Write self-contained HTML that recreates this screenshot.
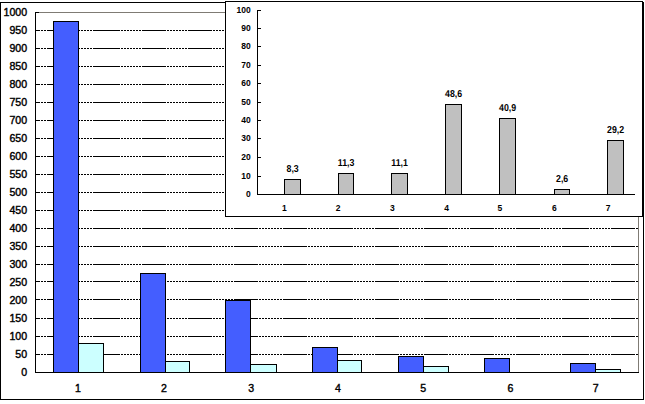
<!DOCTYPE html>
<html><head><meta charset="utf-8"><title>chart</title>
<style>
html,body{margin:0;padding:0;background:#fff;}
body{width:645px;height:404px;overflow:hidden;}
svg{display:block;}
text{font-family:"Liberation Sans", Arial, sans-serif;}
.ml{font-size:10.6px;fill:#000;stroke:#000;stroke-width:0.4px;}
.il{font-size:8.5px;font-weight:bold;fill:#000;}
.dl{font-size:10px;font-weight:bold;fill:#000;text-rendering:geometricPrecision;}
</style></head><body>
<svg width="645" height="404" viewBox="0 0 645 404">
<rect x="0" y="0" width="645" height="404" fill="#fff"/>

<rect x="0.5" y="2.5" width="643" height="397" fill="#fff" stroke="#000" stroke-width="1" shape-rendering="crispEdges"/>
<path d="M39 12.5H639M638.5 12V372" stroke="#7f7b74" stroke-width="1" fill="none" shape-rendering="crispEdges"/>
<path d="M36 30.5H40M41 30.5H43M44 30.5H46M47 30.5H71M72 30.5H74M75 30.5H77M78 30.5H80M81 30.5H83M84 30.5H86M87 30.5H89M90 30.5H92M93 30.5H120M121 30.5H123M124 30.5H126M127 30.5H129M130 30.5H132M133 30.5H135M136 30.5H138M139 30.5H141M142 30.5H166M167 30.5H169M170 30.5H172M173 30.5H175M176 30.5H178M179 30.5H181M182 30.5H184M185 30.5H187M188 30.5H212M213 30.5H215M216 30.5H218M219 30.5H221M222 30.5H224M225 30.5H227M228 30.5H230M231 30.5H233M234 30.5H258M259 30.5H261M262 30.5H264M265 30.5H267M268 30.5H270M271 30.5H273M274 30.5H276M277 30.5H279M280 30.5H282M283 30.5H307M308 30.5H310M311 30.5H313M314 30.5H316M317 30.5H319M320 30.5H322M323 30.5H325M326 30.5H328M329 30.5H353M354 30.5H356M357 30.5H359M360 30.5H362M363 30.5H365M366 30.5H368M369 30.5H371M372 30.5H374M375 30.5H399M400 30.5H402M403 30.5H405M406 30.5H408M409 30.5H411M412 30.5H414M415 30.5H417M418 30.5H420M421 30.5H423M424 30.5H448M449 30.5H451M452 30.5H454M455 30.5H457M458 30.5H460M461 30.5H463M464 30.5H466M467 30.5H469M470 30.5H494M495 30.5H497M498 30.5H500M501 30.5H503M504 30.5H506M507 30.5H509M510 30.5H512M513 30.5H515M516 30.5H540M541 30.5H543M544 30.5H546M547 30.5H549M550 30.5H552M553 30.5H555M556 30.5H558M559 30.5H561M562 30.5H589M590 30.5H592M593 30.5H595M596 30.5H598M599 30.5H601M602 30.5H604M605 30.5H607M608 30.5H610M611 30.5H635M636 30.5H638M36 48.5H40M41 48.5H43M44 48.5H46M47 48.5H71M72 48.5H74M75 48.5H77M78 48.5H80M81 48.5H83M84 48.5H86M87 48.5H89M90 48.5H92M93 48.5H120M121 48.5H123M124 48.5H126M127 48.5H129M130 48.5H132M133 48.5H135M136 48.5H138M139 48.5H141M142 48.5H166M167 48.5H169M170 48.5H172M173 48.5H175M176 48.5H178M179 48.5H181M182 48.5H184M185 48.5H187M188 48.5H212M213 48.5H215M216 48.5H218M219 48.5H221M222 48.5H224M225 48.5H227M228 48.5H230M231 48.5H233M234 48.5H258M259 48.5H261M262 48.5H264M265 48.5H267M268 48.5H270M271 48.5H273M274 48.5H276M277 48.5H279M280 48.5H282M283 48.5H307M308 48.5H310M311 48.5H313M314 48.5H316M317 48.5H319M320 48.5H322M323 48.5H325M326 48.5H328M329 48.5H353M354 48.5H356M357 48.5H359M360 48.5H362M363 48.5H365M366 48.5H368M369 48.5H371M372 48.5H374M375 48.5H399M400 48.5H402M403 48.5H405M406 48.5H408M409 48.5H411M412 48.5H414M415 48.5H417M418 48.5H420M421 48.5H423M424 48.5H448M449 48.5H451M452 48.5H454M455 48.5H457M458 48.5H460M461 48.5H463M464 48.5H466M467 48.5H469M470 48.5H494M495 48.5H497M498 48.5H500M501 48.5H503M504 48.5H506M507 48.5H509M510 48.5H512M513 48.5H515M516 48.5H540M541 48.5H543M544 48.5H546M547 48.5H549M550 48.5H552M553 48.5H555M556 48.5H558M559 48.5H561M562 48.5H589M590 48.5H592M593 48.5H595M596 48.5H598M599 48.5H601M602 48.5H604M605 48.5H607M608 48.5H610M611 48.5H635M636 48.5H638M36 66.5H40M41 66.5H43M44 66.5H46M47 66.5H71M72 66.5H74M75 66.5H77M78 66.5H80M81 66.5H83M84 66.5H86M87 66.5H89M90 66.5H92M93 66.5H120M121 66.5H123M124 66.5H126M127 66.5H129M130 66.5H132M133 66.5H135M136 66.5H138M139 66.5H141M142 66.5H166M167 66.5H169M170 66.5H172M173 66.5H175M176 66.5H178M179 66.5H181M182 66.5H184M185 66.5H187M188 66.5H212M213 66.5H215M216 66.5H218M219 66.5H221M222 66.5H224M225 66.5H227M228 66.5H230M231 66.5H233M234 66.5H258M259 66.5H261M262 66.5H264M265 66.5H267M268 66.5H270M271 66.5H273M274 66.5H276M277 66.5H279M280 66.5H282M283 66.5H307M308 66.5H310M311 66.5H313M314 66.5H316M317 66.5H319M320 66.5H322M323 66.5H325M326 66.5H328M329 66.5H353M354 66.5H356M357 66.5H359M360 66.5H362M363 66.5H365M366 66.5H368M369 66.5H371M372 66.5H374M375 66.5H399M400 66.5H402M403 66.5H405M406 66.5H408M409 66.5H411M412 66.5H414M415 66.5H417M418 66.5H420M421 66.5H423M424 66.5H448M449 66.5H451M452 66.5H454M455 66.5H457M458 66.5H460M461 66.5H463M464 66.5H466M467 66.5H469M470 66.5H494M495 66.5H497M498 66.5H500M501 66.5H503M504 66.5H506M507 66.5H509M510 66.5H512M513 66.5H515M516 66.5H540M541 66.5H543M544 66.5H546M547 66.5H549M550 66.5H552M553 66.5H555M556 66.5H558M559 66.5H561M562 66.5H589M590 66.5H592M593 66.5H595M596 66.5H598M599 66.5H601M602 66.5H604M605 66.5H607M608 66.5H610M611 66.5H635M636 66.5H638M36 84.5H40M41 84.5H43M44 84.5H46M47 84.5H71M72 84.5H74M75 84.5H77M78 84.5H80M81 84.5H83M84 84.5H86M87 84.5H89M90 84.5H92M93 84.5H120M121 84.5H123M124 84.5H126M127 84.5H129M130 84.5H132M133 84.5H135M136 84.5H138M139 84.5H141M142 84.5H166M167 84.5H169M170 84.5H172M173 84.5H175M176 84.5H178M179 84.5H181M182 84.5H184M185 84.5H187M188 84.5H212M213 84.5H215M216 84.5H218M219 84.5H221M222 84.5H224M225 84.5H227M228 84.5H230M231 84.5H233M234 84.5H258M259 84.5H261M262 84.5H264M265 84.5H267M268 84.5H270M271 84.5H273M274 84.5H276M277 84.5H279M280 84.5H282M283 84.5H307M308 84.5H310M311 84.5H313M314 84.5H316M317 84.5H319M320 84.5H322M323 84.5H325M326 84.5H328M329 84.5H353M354 84.5H356M357 84.5H359M360 84.5H362M363 84.5H365M366 84.5H368M369 84.5H371M372 84.5H374M375 84.5H399M400 84.5H402M403 84.5H405M406 84.5H408M409 84.5H411M412 84.5H414M415 84.5H417M418 84.5H420M421 84.5H423M424 84.5H448M449 84.5H451M452 84.5H454M455 84.5H457M458 84.5H460M461 84.5H463M464 84.5H466M467 84.5H469M470 84.5H494M495 84.5H497M498 84.5H500M501 84.5H503M504 84.5H506M507 84.5H509M510 84.5H512M513 84.5H515M516 84.5H540M541 84.5H543M544 84.5H546M547 84.5H549M550 84.5H552M553 84.5H555M556 84.5H558M559 84.5H561M562 84.5H589M590 84.5H592M593 84.5H595M596 84.5H598M599 84.5H601M602 84.5H604M605 84.5H607M608 84.5H610M611 84.5H635M636 84.5H638M36 102.5H40M41 102.5H43M44 102.5H46M47 102.5H71M72 102.5H74M75 102.5H77M78 102.5H80M81 102.5H83M84 102.5H86M87 102.5H89M90 102.5H92M93 102.5H120M121 102.5H123M124 102.5H126M127 102.5H129M130 102.5H132M133 102.5H135M136 102.5H138M139 102.5H141M142 102.5H166M167 102.5H169M170 102.5H172M173 102.5H175M176 102.5H178M179 102.5H181M182 102.5H184M185 102.5H187M188 102.5H212M213 102.5H215M216 102.5H218M219 102.5H221M222 102.5H224M225 102.5H227M228 102.5H230M231 102.5H233M234 102.5H258M259 102.5H261M262 102.5H264M265 102.5H267M268 102.5H270M271 102.5H273M274 102.5H276M277 102.5H279M280 102.5H282M283 102.5H307M308 102.5H310M311 102.5H313M314 102.5H316M317 102.5H319M320 102.5H322M323 102.5H325M326 102.5H328M329 102.5H353M354 102.5H356M357 102.5H359M360 102.5H362M363 102.5H365M366 102.5H368M369 102.5H371M372 102.5H374M375 102.5H399M400 102.5H402M403 102.5H405M406 102.5H408M409 102.5H411M412 102.5H414M415 102.5H417M418 102.5H420M421 102.5H423M424 102.5H448M449 102.5H451M452 102.5H454M455 102.5H457M458 102.5H460M461 102.5H463M464 102.5H466M467 102.5H469M470 102.5H494M495 102.5H497M498 102.5H500M501 102.5H503M504 102.5H506M507 102.5H509M510 102.5H512M513 102.5H515M516 102.5H540M541 102.5H543M544 102.5H546M547 102.5H549M550 102.5H552M553 102.5H555M556 102.5H558M559 102.5H561M562 102.5H589M590 102.5H592M593 102.5H595M596 102.5H598M599 102.5H601M602 102.5H604M605 102.5H607M608 102.5H610M611 102.5H635M636 102.5H638M36 120.5H40M41 120.5H43M44 120.5H46M47 120.5H71M72 120.5H74M75 120.5H77M78 120.5H80M81 120.5H83M84 120.5H86M87 120.5H89M90 120.5H92M93 120.5H120M121 120.5H123M124 120.5H126M127 120.5H129M130 120.5H132M133 120.5H135M136 120.5H138M139 120.5H141M142 120.5H166M167 120.5H169M170 120.5H172M173 120.5H175M176 120.5H178M179 120.5H181M182 120.5H184M185 120.5H187M188 120.5H212M213 120.5H215M216 120.5H218M219 120.5H221M222 120.5H224M225 120.5H227M228 120.5H230M231 120.5H233M234 120.5H258M259 120.5H261M262 120.5H264M265 120.5H267M268 120.5H270M271 120.5H273M274 120.5H276M277 120.5H279M280 120.5H282M283 120.5H307M308 120.5H310M311 120.5H313M314 120.5H316M317 120.5H319M320 120.5H322M323 120.5H325M326 120.5H328M329 120.5H353M354 120.5H356M357 120.5H359M360 120.5H362M363 120.5H365M366 120.5H368M369 120.5H371M372 120.5H374M375 120.5H399M400 120.5H402M403 120.5H405M406 120.5H408M409 120.5H411M412 120.5H414M415 120.5H417M418 120.5H420M421 120.5H423M424 120.5H448M449 120.5H451M452 120.5H454M455 120.5H457M458 120.5H460M461 120.5H463M464 120.5H466M467 120.5H469M470 120.5H494M495 120.5H497M498 120.5H500M501 120.5H503M504 120.5H506M507 120.5H509M510 120.5H512M513 120.5H515M516 120.5H540M541 120.5H543M544 120.5H546M547 120.5H549M550 120.5H552M553 120.5H555M556 120.5H558M559 120.5H561M562 120.5H589M590 120.5H592M593 120.5H595M596 120.5H598M599 120.5H601M602 120.5H604M605 120.5H607M608 120.5H610M611 120.5H635M636 120.5H638M36 138.5H40M41 138.5H43M44 138.5H46M47 138.5H71M72 138.5H74M75 138.5H77M78 138.5H80M81 138.5H83M84 138.5H86M87 138.5H89M90 138.5H92M93 138.5H120M121 138.5H123M124 138.5H126M127 138.5H129M130 138.5H132M133 138.5H135M136 138.5H138M139 138.5H141M142 138.5H166M167 138.5H169M170 138.5H172M173 138.5H175M176 138.5H178M179 138.5H181M182 138.5H184M185 138.5H187M188 138.5H212M213 138.5H215M216 138.5H218M219 138.5H221M222 138.5H224M225 138.5H227M228 138.5H230M231 138.5H233M234 138.5H258M259 138.5H261M262 138.5H264M265 138.5H267M268 138.5H270M271 138.5H273M274 138.5H276M277 138.5H279M280 138.5H282M283 138.5H307M308 138.5H310M311 138.5H313M314 138.5H316M317 138.5H319M320 138.5H322M323 138.5H325M326 138.5H328M329 138.5H353M354 138.5H356M357 138.5H359M360 138.5H362M363 138.5H365M366 138.5H368M369 138.5H371M372 138.5H374M375 138.5H399M400 138.5H402M403 138.5H405M406 138.5H408M409 138.5H411M412 138.5H414M415 138.5H417M418 138.5H420M421 138.5H423M424 138.5H448M449 138.5H451M452 138.5H454M455 138.5H457M458 138.5H460M461 138.5H463M464 138.5H466M467 138.5H469M470 138.5H494M495 138.5H497M498 138.5H500M501 138.5H503M504 138.5H506M507 138.5H509M510 138.5H512M513 138.5H515M516 138.5H540M541 138.5H543M544 138.5H546M547 138.5H549M550 138.5H552M553 138.5H555M556 138.5H558M559 138.5H561M562 138.5H589M590 138.5H592M593 138.5H595M596 138.5H598M599 138.5H601M602 138.5H604M605 138.5H607M608 138.5H610M611 138.5H635M636 138.5H638M36 156.5H40M41 156.5H43M44 156.5H46M47 156.5H71M72 156.5H74M75 156.5H77M78 156.5H80M81 156.5H83M84 156.5H86M87 156.5H89M90 156.5H92M93 156.5H120M121 156.5H123M124 156.5H126M127 156.5H129M130 156.5H132M133 156.5H135M136 156.5H138M139 156.5H141M142 156.5H166M167 156.5H169M170 156.5H172M173 156.5H175M176 156.5H178M179 156.5H181M182 156.5H184M185 156.5H187M188 156.5H212M213 156.5H215M216 156.5H218M219 156.5H221M222 156.5H224M225 156.5H227M228 156.5H230M231 156.5H233M234 156.5H258M259 156.5H261M262 156.5H264M265 156.5H267M268 156.5H270M271 156.5H273M274 156.5H276M277 156.5H279M280 156.5H282M283 156.5H307M308 156.5H310M311 156.5H313M314 156.5H316M317 156.5H319M320 156.5H322M323 156.5H325M326 156.5H328M329 156.5H353M354 156.5H356M357 156.5H359M360 156.5H362M363 156.5H365M366 156.5H368M369 156.5H371M372 156.5H374M375 156.5H399M400 156.5H402M403 156.5H405M406 156.5H408M409 156.5H411M412 156.5H414M415 156.5H417M418 156.5H420M421 156.5H423M424 156.5H448M449 156.5H451M452 156.5H454M455 156.5H457M458 156.5H460M461 156.5H463M464 156.5H466M467 156.5H469M470 156.5H494M495 156.5H497M498 156.5H500M501 156.5H503M504 156.5H506M507 156.5H509M510 156.5H512M513 156.5H515M516 156.5H540M541 156.5H543M544 156.5H546M547 156.5H549M550 156.5H552M553 156.5H555M556 156.5H558M559 156.5H561M562 156.5H589M590 156.5H592M593 156.5H595M596 156.5H598M599 156.5H601M602 156.5H604M605 156.5H607M608 156.5H610M611 156.5H635M636 156.5H638M36 174.5H40M41 174.5H43M44 174.5H46M47 174.5H71M72 174.5H74M75 174.5H77M78 174.5H80M81 174.5H83M84 174.5H86M87 174.5H89M90 174.5H92M93 174.5H120M121 174.5H123M124 174.5H126M127 174.5H129M130 174.5H132M133 174.5H135M136 174.5H138M139 174.5H141M142 174.5H166M167 174.5H169M170 174.5H172M173 174.5H175M176 174.5H178M179 174.5H181M182 174.5H184M185 174.5H187M188 174.5H212M213 174.5H215M216 174.5H218M219 174.5H221M222 174.5H224M225 174.5H227M228 174.5H230M231 174.5H233M234 174.5H258M259 174.5H261M262 174.5H264M265 174.5H267M268 174.5H270M271 174.5H273M274 174.5H276M277 174.5H279M280 174.5H282M283 174.5H307M308 174.5H310M311 174.5H313M314 174.5H316M317 174.5H319M320 174.5H322M323 174.5H325M326 174.5H328M329 174.5H353M354 174.5H356M357 174.5H359M360 174.5H362M363 174.5H365M366 174.5H368M369 174.5H371M372 174.5H374M375 174.5H399M400 174.5H402M403 174.5H405M406 174.5H408M409 174.5H411M412 174.5H414M415 174.5H417M418 174.5H420M421 174.5H423M424 174.5H448M449 174.5H451M452 174.5H454M455 174.5H457M458 174.5H460M461 174.5H463M464 174.5H466M467 174.5H469M470 174.5H494M495 174.5H497M498 174.5H500M501 174.5H503M504 174.5H506M507 174.5H509M510 174.5H512M513 174.5H515M516 174.5H540M541 174.5H543M544 174.5H546M547 174.5H549M550 174.5H552M553 174.5H555M556 174.5H558M559 174.5H561M562 174.5H589M590 174.5H592M593 174.5H595M596 174.5H598M599 174.5H601M602 174.5H604M605 174.5H607M608 174.5H610M611 174.5H635M636 174.5H638M36 192.5H40M41 192.5H43M44 192.5H46M47 192.5H71M72 192.5H74M75 192.5H77M78 192.5H80M81 192.5H83M84 192.5H86M87 192.5H89M90 192.5H92M93 192.5H120M121 192.5H123M124 192.5H126M127 192.5H129M130 192.5H132M133 192.5H135M136 192.5H138M139 192.5H141M142 192.5H166M167 192.5H169M170 192.5H172M173 192.5H175M176 192.5H178M179 192.5H181M182 192.5H184M185 192.5H187M188 192.5H212M213 192.5H215M216 192.5H218M219 192.5H221M222 192.5H224M225 192.5H227M228 192.5H230M231 192.5H233M234 192.5H258M259 192.5H261M262 192.5H264M265 192.5H267M268 192.5H270M271 192.5H273M274 192.5H276M277 192.5H279M280 192.5H282M283 192.5H307M308 192.5H310M311 192.5H313M314 192.5H316M317 192.5H319M320 192.5H322M323 192.5H325M326 192.5H328M329 192.5H353M354 192.5H356M357 192.5H359M360 192.5H362M363 192.5H365M366 192.5H368M369 192.5H371M372 192.5H374M375 192.5H399M400 192.5H402M403 192.5H405M406 192.5H408M409 192.5H411M412 192.5H414M415 192.5H417M418 192.5H420M421 192.5H423M424 192.5H448M449 192.5H451M452 192.5H454M455 192.5H457M458 192.5H460M461 192.5H463M464 192.5H466M467 192.5H469M470 192.5H494M495 192.5H497M498 192.5H500M501 192.5H503M504 192.5H506M507 192.5H509M510 192.5H512M513 192.5H515M516 192.5H540M541 192.5H543M544 192.5H546M547 192.5H549M550 192.5H552M553 192.5H555M556 192.5H558M559 192.5H561M562 192.5H589M590 192.5H592M593 192.5H595M596 192.5H598M599 192.5H601M602 192.5H604M605 192.5H607M608 192.5H610M611 192.5H635M636 192.5H638M36 210.5H40M41 210.5H43M44 210.5H46M47 210.5H71M72 210.5H74M75 210.5H77M78 210.5H80M81 210.5H83M84 210.5H86M87 210.5H89M90 210.5H92M93 210.5H120M121 210.5H123M124 210.5H126M127 210.5H129M130 210.5H132M133 210.5H135M136 210.5H138M139 210.5H141M142 210.5H166M167 210.5H169M170 210.5H172M173 210.5H175M176 210.5H178M179 210.5H181M182 210.5H184M185 210.5H187M188 210.5H212M213 210.5H215M216 210.5H218M219 210.5H221M222 210.5H224M225 210.5H227M228 210.5H230M231 210.5H233M234 210.5H258M259 210.5H261M262 210.5H264M265 210.5H267M268 210.5H270M271 210.5H273M274 210.5H276M277 210.5H279M280 210.5H282M283 210.5H307M308 210.5H310M311 210.5H313M314 210.5H316M317 210.5H319M320 210.5H322M323 210.5H325M326 210.5H328M329 210.5H353M354 210.5H356M357 210.5H359M360 210.5H362M363 210.5H365M366 210.5H368M369 210.5H371M372 210.5H374M375 210.5H399M400 210.5H402M403 210.5H405M406 210.5H408M409 210.5H411M412 210.5H414M415 210.5H417M418 210.5H420M421 210.5H423M424 210.5H448M449 210.5H451M452 210.5H454M455 210.5H457M458 210.5H460M461 210.5H463M464 210.5H466M467 210.5H469M470 210.5H494M495 210.5H497M498 210.5H500M501 210.5H503M504 210.5H506M507 210.5H509M510 210.5H512M513 210.5H515M516 210.5H540M541 210.5H543M544 210.5H546M547 210.5H549M550 210.5H552M553 210.5H555M556 210.5H558M559 210.5H561M562 210.5H589M590 210.5H592M593 210.5H595M596 210.5H598M599 210.5H601M602 210.5H604M605 210.5H607M608 210.5H610M611 210.5H635M636 210.5H638M36 228.5H40M41 228.5H43M44 228.5H46M47 228.5H71M72 228.5H74M75 228.5H77M78 228.5H80M81 228.5H83M84 228.5H86M87 228.5H89M90 228.5H92M93 228.5H120M121 228.5H123M124 228.5H126M127 228.5H129M130 228.5H132M133 228.5H135M136 228.5H138M139 228.5H141M142 228.5H166M167 228.5H169M170 228.5H172M173 228.5H175M176 228.5H178M179 228.5H181M182 228.5H184M185 228.5H187M188 228.5H212M213 228.5H215M216 228.5H218M219 228.5H221M222 228.5H224M225 228.5H227M228 228.5H230M231 228.5H233M234 228.5H258M259 228.5H261M262 228.5H264M265 228.5H267M268 228.5H270M271 228.5H273M274 228.5H276M277 228.5H279M280 228.5H282M283 228.5H307M308 228.5H310M311 228.5H313M314 228.5H316M317 228.5H319M320 228.5H322M323 228.5H325M326 228.5H328M329 228.5H353M354 228.5H356M357 228.5H359M360 228.5H362M363 228.5H365M366 228.5H368M369 228.5H371M372 228.5H374M375 228.5H399M400 228.5H402M403 228.5H405M406 228.5H408M409 228.5H411M412 228.5H414M415 228.5H417M418 228.5H420M421 228.5H423M424 228.5H448M449 228.5H451M452 228.5H454M455 228.5H457M458 228.5H460M461 228.5H463M464 228.5H466M467 228.5H469M470 228.5H494M495 228.5H497M498 228.5H500M501 228.5H503M504 228.5H506M507 228.5H509M510 228.5H512M513 228.5H515M516 228.5H540M541 228.5H543M544 228.5H546M547 228.5H549M550 228.5H552M553 228.5H555M556 228.5H558M559 228.5H561M562 228.5H589M590 228.5H592M593 228.5H595M596 228.5H598M599 228.5H601M602 228.5H604M605 228.5H607M608 228.5H610M611 228.5H635M636 228.5H638M36 246.5H40M41 246.5H43M44 246.5H46M47 246.5H71M72 246.5H74M75 246.5H77M78 246.5H80M81 246.5H83M84 246.5H86M87 246.5H89M90 246.5H92M93 246.5H120M121 246.5H123M124 246.5H126M127 246.5H129M130 246.5H132M133 246.5H135M136 246.5H138M139 246.5H141M142 246.5H166M167 246.5H169M170 246.5H172M173 246.5H175M176 246.5H178M179 246.5H181M182 246.5H184M185 246.5H187M188 246.5H212M213 246.5H215M216 246.5H218M219 246.5H221M222 246.5H224M225 246.5H227M228 246.5H230M231 246.5H233M234 246.5H258M259 246.5H261M262 246.5H264M265 246.5H267M268 246.5H270M271 246.5H273M274 246.5H276M277 246.5H279M280 246.5H282M283 246.5H307M308 246.5H310M311 246.5H313M314 246.5H316M317 246.5H319M320 246.5H322M323 246.5H325M326 246.5H328M329 246.5H353M354 246.5H356M357 246.5H359M360 246.5H362M363 246.5H365M366 246.5H368M369 246.5H371M372 246.5H374M375 246.5H399M400 246.5H402M403 246.5H405M406 246.5H408M409 246.5H411M412 246.5H414M415 246.5H417M418 246.5H420M421 246.5H423M424 246.5H448M449 246.5H451M452 246.5H454M455 246.5H457M458 246.5H460M461 246.5H463M464 246.5H466M467 246.5H469M470 246.5H494M495 246.5H497M498 246.5H500M501 246.5H503M504 246.5H506M507 246.5H509M510 246.5H512M513 246.5H515M516 246.5H540M541 246.5H543M544 246.5H546M547 246.5H549M550 246.5H552M553 246.5H555M556 246.5H558M559 246.5H561M562 246.5H589M590 246.5H592M593 246.5H595M596 246.5H598M599 246.5H601M602 246.5H604M605 246.5H607M608 246.5H610M611 246.5H635M636 246.5H638M36 264.5H40M41 264.5H43M44 264.5H46M47 264.5H71M72 264.5H74M75 264.5H77M78 264.5H80M81 264.5H83M84 264.5H86M87 264.5H89M90 264.5H92M93 264.5H120M121 264.5H123M124 264.5H126M127 264.5H129M130 264.5H132M133 264.5H135M136 264.5H138M139 264.5H141M142 264.5H166M167 264.5H169M170 264.5H172M173 264.5H175M176 264.5H178M179 264.5H181M182 264.5H184M185 264.5H187M188 264.5H212M213 264.5H215M216 264.5H218M219 264.5H221M222 264.5H224M225 264.5H227M228 264.5H230M231 264.5H233M234 264.5H258M259 264.5H261M262 264.5H264M265 264.5H267M268 264.5H270M271 264.5H273M274 264.5H276M277 264.5H279M280 264.5H282M283 264.5H307M308 264.5H310M311 264.5H313M314 264.5H316M317 264.5H319M320 264.5H322M323 264.5H325M326 264.5H328M329 264.5H353M354 264.5H356M357 264.5H359M360 264.5H362M363 264.5H365M366 264.5H368M369 264.5H371M372 264.5H374M375 264.5H399M400 264.5H402M403 264.5H405M406 264.5H408M409 264.5H411M412 264.5H414M415 264.5H417M418 264.5H420M421 264.5H423M424 264.5H448M449 264.5H451M452 264.5H454M455 264.5H457M458 264.5H460M461 264.5H463M464 264.5H466M467 264.5H469M470 264.5H494M495 264.5H497M498 264.5H500M501 264.5H503M504 264.5H506M507 264.5H509M510 264.5H512M513 264.5H515M516 264.5H540M541 264.5H543M544 264.5H546M547 264.5H549M550 264.5H552M553 264.5H555M556 264.5H558M559 264.5H561M562 264.5H589M590 264.5H592M593 264.5H595M596 264.5H598M599 264.5H601M602 264.5H604M605 264.5H607M608 264.5H610M611 264.5H635M636 264.5H638M36 281.5H40M41 281.5H43M44 281.5H46M47 281.5H71M72 281.5H74M75 281.5H77M78 281.5H80M81 281.5H83M84 281.5H86M87 281.5H89M90 281.5H92M93 281.5H120M121 281.5H123M124 281.5H126M127 281.5H129M130 281.5H132M133 281.5H135M136 281.5H138M139 281.5H141M142 281.5H166M167 281.5H169M170 281.5H172M173 281.5H175M176 281.5H178M179 281.5H181M182 281.5H184M185 281.5H187M188 281.5H212M213 281.5H215M216 281.5H218M219 281.5H221M222 281.5H224M225 281.5H227M228 281.5H230M231 281.5H233M234 281.5H258M259 281.5H261M262 281.5H264M265 281.5H267M268 281.5H270M271 281.5H273M274 281.5H276M277 281.5H279M280 281.5H282M283 281.5H307M308 281.5H310M311 281.5H313M314 281.5H316M317 281.5H319M320 281.5H322M323 281.5H325M326 281.5H328M329 281.5H353M354 281.5H356M357 281.5H359M360 281.5H362M363 281.5H365M366 281.5H368M369 281.5H371M372 281.5H374M375 281.5H399M400 281.5H402M403 281.5H405M406 281.5H408M409 281.5H411M412 281.5H414M415 281.5H417M418 281.5H420M421 281.5H423M424 281.5H448M449 281.5H451M452 281.5H454M455 281.5H457M458 281.5H460M461 281.5H463M464 281.5H466M467 281.5H469M470 281.5H494M495 281.5H497M498 281.5H500M501 281.5H503M504 281.5H506M507 281.5H509M510 281.5H512M513 281.5H515M516 281.5H540M541 281.5H543M544 281.5H546M547 281.5H549M550 281.5H552M553 281.5H555M556 281.5H558M559 281.5H561M562 281.5H589M590 281.5H592M593 281.5H595M596 281.5H598M599 281.5H601M602 281.5H604M605 281.5H607M608 281.5H610M611 281.5H635M636 281.5H638M36 299.5H40M41 299.5H43M44 299.5H46M47 299.5H71M72 299.5H74M75 299.5H77M78 299.5H80M81 299.5H83M84 299.5H86M87 299.5H89M90 299.5H92M93 299.5H120M121 299.5H123M124 299.5H126M127 299.5H129M130 299.5H132M133 299.5H135M136 299.5H138M139 299.5H141M142 299.5H166M167 299.5H169M170 299.5H172M173 299.5H175M176 299.5H178M179 299.5H181M182 299.5H184M185 299.5H187M188 299.5H212M213 299.5H215M216 299.5H218M219 299.5H221M222 299.5H224M225 299.5H227M228 299.5H230M231 299.5H233M234 299.5H258M259 299.5H261M262 299.5H264M265 299.5H267M268 299.5H270M271 299.5H273M274 299.5H276M277 299.5H279M280 299.5H282M283 299.5H307M308 299.5H310M311 299.5H313M314 299.5H316M317 299.5H319M320 299.5H322M323 299.5H325M326 299.5H328M329 299.5H353M354 299.5H356M357 299.5H359M360 299.5H362M363 299.5H365M366 299.5H368M369 299.5H371M372 299.5H374M375 299.5H399M400 299.5H402M403 299.5H405M406 299.5H408M409 299.5H411M412 299.5H414M415 299.5H417M418 299.5H420M421 299.5H423M424 299.5H448M449 299.5H451M452 299.5H454M455 299.5H457M458 299.5H460M461 299.5H463M464 299.5H466M467 299.5H469M470 299.5H494M495 299.5H497M498 299.5H500M501 299.5H503M504 299.5H506M507 299.5H509M510 299.5H512M513 299.5H515M516 299.5H540M541 299.5H543M544 299.5H546M547 299.5H549M550 299.5H552M553 299.5H555M556 299.5H558M559 299.5H561M562 299.5H589M590 299.5H592M593 299.5H595M596 299.5H598M599 299.5H601M602 299.5H604M605 299.5H607M608 299.5H610M611 299.5H635M636 299.5H638M36 318.5H40M41 318.5H43M44 318.5H46M47 318.5H71M72 318.5H74M75 318.5H77M78 318.5H80M81 318.5H83M84 318.5H86M87 318.5H89M90 318.5H92M93 318.5H120M121 318.5H123M124 318.5H126M127 318.5H129M130 318.5H132M133 318.5H135M136 318.5H138M139 318.5H141M142 318.5H166M167 318.5H169M170 318.5H172M173 318.5H175M176 318.5H178M179 318.5H181M182 318.5H184M185 318.5H187M188 318.5H212M213 318.5H215M216 318.5H218M219 318.5H221M222 318.5H224M225 318.5H227M228 318.5H230M231 318.5H233M234 318.5H258M259 318.5H261M262 318.5H264M265 318.5H267M268 318.5H270M271 318.5H273M274 318.5H276M277 318.5H279M280 318.5H282M283 318.5H307M308 318.5H310M311 318.5H313M314 318.5H316M317 318.5H319M320 318.5H322M323 318.5H325M326 318.5H328M329 318.5H353M354 318.5H356M357 318.5H359M360 318.5H362M363 318.5H365M366 318.5H368M369 318.5H371M372 318.5H374M375 318.5H399M400 318.5H402M403 318.5H405M406 318.5H408M409 318.5H411M412 318.5H414M415 318.5H417M418 318.5H420M421 318.5H423M424 318.5H448M449 318.5H451M452 318.5H454M455 318.5H457M458 318.5H460M461 318.5H463M464 318.5H466M467 318.5H469M470 318.5H494M495 318.5H497M498 318.5H500M501 318.5H503M504 318.5H506M507 318.5H509M510 318.5H512M513 318.5H515M516 318.5H540M541 318.5H543M544 318.5H546M547 318.5H549M550 318.5H552M553 318.5H555M556 318.5H558M559 318.5H561M562 318.5H589M590 318.5H592M593 318.5H595M596 318.5H598M599 318.5H601M602 318.5H604M605 318.5H607M608 318.5H610M611 318.5H635M636 318.5H638M36 336.5H40M41 336.5H43M44 336.5H46M47 336.5H71M72 336.5H74M75 336.5H77M78 336.5H80M81 336.5H83M84 336.5H86M87 336.5H89M90 336.5H92M93 336.5H120M121 336.5H123M124 336.5H126M127 336.5H129M130 336.5H132M133 336.5H135M136 336.5H138M139 336.5H141M142 336.5H166M167 336.5H169M170 336.5H172M173 336.5H175M176 336.5H178M179 336.5H181M182 336.5H184M185 336.5H187M188 336.5H212M213 336.5H215M216 336.5H218M219 336.5H221M222 336.5H224M225 336.5H227M228 336.5H230M231 336.5H233M234 336.5H258M259 336.5H261M262 336.5H264M265 336.5H267M268 336.5H270M271 336.5H273M274 336.5H276M277 336.5H279M280 336.5H282M283 336.5H307M308 336.5H310M311 336.5H313M314 336.5H316M317 336.5H319M320 336.5H322M323 336.5H325M326 336.5H328M329 336.5H353M354 336.5H356M357 336.5H359M360 336.5H362M363 336.5H365M366 336.5H368M369 336.5H371M372 336.5H374M375 336.5H399M400 336.5H402M403 336.5H405M406 336.5H408M409 336.5H411M412 336.5H414M415 336.5H417M418 336.5H420M421 336.5H423M424 336.5H448M449 336.5H451M452 336.5H454M455 336.5H457M458 336.5H460M461 336.5H463M464 336.5H466M467 336.5H469M470 336.5H494M495 336.5H497M498 336.5H500M501 336.5H503M504 336.5H506M507 336.5H509M510 336.5H512M513 336.5H515M516 336.5H540M541 336.5H543M544 336.5H546M547 336.5H549M550 336.5H552M553 336.5H555M556 336.5H558M559 336.5H561M562 336.5H589M590 336.5H592M593 336.5H595M596 336.5H598M599 336.5H601M602 336.5H604M605 336.5H607M608 336.5H610M611 336.5H635M636 336.5H638M36 354.5H40M41 354.5H43M44 354.5H46M47 354.5H71M72 354.5H74M75 354.5H77M78 354.5H80M81 354.5H83M84 354.5H86M87 354.5H89M90 354.5H92M93 354.5H120M121 354.5H123M124 354.5H126M127 354.5H129M130 354.5H132M133 354.5H135M136 354.5H138M139 354.5H141M142 354.5H166M167 354.5H169M170 354.5H172M173 354.5H175M176 354.5H178M179 354.5H181M182 354.5H184M185 354.5H187M188 354.5H212M213 354.5H215M216 354.5H218M219 354.5H221M222 354.5H224M225 354.5H227M228 354.5H230M231 354.5H233M234 354.5H258M259 354.5H261M262 354.5H264M265 354.5H267M268 354.5H270M271 354.5H273M274 354.5H276M277 354.5H279M280 354.5H282M283 354.5H307M308 354.5H310M311 354.5H313M314 354.5H316M317 354.5H319M320 354.5H322M323 354.5H325M326 354.5H328M329 354.5H353M354 354.5H356M357 354.5H359M360 354.5H362M363 354.5H365M366 354.5H368M369 354.5H371M372 354.5H374M375 354.5H399M400 354.5H402M403 354.5H405M406 354.5H408M409 354.5H411M412 354.5H414M415 354.5H417M418 354.5H420M421 354.5H423M424 354.5H448M449 354.5H451M452 354.5H454M455 354.5H457M458 354.5H460M461 354.5H463M464 354.5H466M467 354.5H469M470 354.5H494M495 354.5H497M498 354.5H500M501 354.5H503M504 354.5H506M507 354.5H509M510 354.5H512M513 354.5H515M516 354.5H540M541 354.5H543M544 354.5H546M547 354.5H549M550 354.5H552M553 354.5H555M556 354.5H558M559 354.5H561M562 354.5H589M590 354.5H592M593 354.5H595M596 354.5H598M599 354.5H601M602 354.5H604M605 354.5H607M608 354.5H610M611 354.5H635M636 354.5H638" stroke="#000" stroke-width="1" fill="none" shape-rendering="crispEdges"/>
<path d="M36 12.5H39" stroke="#000" stroke-width="1" shape-rendering="crispEdges"/>
<g shape-rendering="crispEdges"><rect x="53.5" y="21.5" width="25" height="351" fill="#445eff" stroke="#000" stroke-width="1"/><rect x="140.5" y="273.5" width="25" height="99" fill="#445eff" stroke="#000" stroke-width="1"/><rect x="225.5" y="300.5" width="25" height="72" fill="#445eff" stroke="#000" stroke-width="1"/><rect x="312.5" y="347.5" width="25" height="25" fill="#445eff" stroke="#000" stroke-width="1"/><rect x="398.5" y="356.5" width="25" height="16" fill="#445eff" stroke="#000" stroke-width="1"/><rect x="484.5" y="358.5" width="25" height="14" fill="#445eff" stroke="#000" stroke-width="1"/><rect x="570.5" y="363.5" width="25" height="9" fill="#445eff" stroke="#000" stroke-width="1"/><rect x="78.5" y="343.5" width="25" height="29" fill="#ccffff" stroke="#000" stroke-width="1"/><rect x="165.5" y="361.5" width="24" height="11" fill="#ccffff" stroke="#000" stroke-width="1"/><rect x="250.5" y="364.5" width="26" height="8" fill="#ccffff" stroke="#000" stroke-width="1"/><rect x="337.5" y="360.5" width="24" height="12" fill="#ccffff" stroke="#000" stroke-width="1"/><rect x="423.5" y="366.5" width="25" height="6" fill="#ccffff" stroke="#000" stroke-width="1"/><rect x="595.5" y="369.5" width="25" height="3" fill="#ccffff" stroke="#000" stroke-width="1"/></g>
<path d="M35.5 12V373M35 372.5H639" stroke="#000" stroke-width="1" fill="none" shape-rendering="crispEdges"/>
<text class="ml" x="27.1" y="16" text-anchor="end">1000</text>
<text class="ml" x="27.1" y="34" text-anchor="end">950</text>
<text class="ml" x="27.1" y="52" text-anchor="end">900</text>
<text class="ml" x="27.1" y="70" text-anchor="end">850</text>
<text class="ml" x="27.1" y="88" text-anchor="end">800</text>
<text class="ml" x="27.1" y="106" text-anchor="end">750</text>
<text class="ml" x="27.1" y="124" text-anchor="end">700</text>
<text class="ml" x="27.1" y="142" text-anchor="end">650</text>
<text class="ml" x="27.1" y="160" text-anchor="end">600</text>
<text class="ml" x="27.1" y="178" text-anchor="end">550</text>
<text class="ml" x="27.1" y="196" text-anchor="end">500</text>
<text class="ml" x="27.1" y="214" text-anchor="end">450</text>
<text class="ml" x="27.1" y="232" text-anchor="end">400</text>
<text class="ml" x="27.1" y="250" text-anchor="end">350</text>
<text class="ml" x="27.1" y="268" text-anchor="end">300</text>
<text class="ml" x="27.1" y="286" text-anchor="end">250</text>
<text class="ml" x="27.1" y="304" text-anchor="end">200</text>
<text class="ml" x="27.1" y="322" text-anchor="end">150</text>
<text class="ml" x="27.1" y="340" text-anchor="end">100</text>
<text class="ml" x="27.1" y="358" text-anchor="end">50</text>
<text class="ml" x="27.1" y="376" text-anchor="end">0</text>
<text class="ml" x="78.0" y="392" text-anchor="middle">1</text>
<text class="ml" x="163.9" y="392" text-anchor="middle">2</text>
<text class="ml" x="251.3" y="392" text-anchor="middle">3</text>
<text class="ml" x="338.0" y="392" text-anchor="middle">4</text>
<text class="ml" x="423.2" y="392" text-anchor="middle">5</text>
<text class="ml" x="510.4" y="392" text-anchor="middle">6</text>
<text class="ml" x="595.8" y="392" text-anchor="middle">7</text>
<rect x="225.5" y="1.5" width="417" height="215" fill="#fff" stroke="#000" stroke-width="1" shape-rendering="crispEdges"/>
<g shape-rendering="crispEdges"><rect x="284.5" y="179.5" width="16" height="15" fill="#c0c0c0" stroke="#000" stroke-width="1"/><rect x="338.5" y="173.5" width="15" height="21" fill="#c0c0c0" stroke="#000" stroke-width="1"/><rect x="391.5" y="173.5" width="16" height="21" fill="#c0c0c0" stroke="#000" stroke-width="1"/><rect x="445.5" y="104.5" width="16" height="90" fill="#c0c0c0" stroke="#000" stroke-width="1"/><rect x="499.5" y="118.5" width="16" height="76" fill="#c0c0c0" stroke="#000" stroke-width="1"/><rect x="554.5" y="189.5" width="15" height="5" fill="#c0c0c0" stroke="#000" stroke-width="1"/><rect x="607.5" y="140.5" width="16" height="54" fill="#c0c0c0" stroke="#000" stroke-width="1"/></g>
<path d="M257.5 10V195M257 194.5H635M258 10.5H261M258 28.5H261M258 46.5H261M258 65.5H261M258 83.5H261M258 102.5H261M258 120.5H261M258 138.5H261M258 157.5H261M258 176.5H261" stroke="#000" stroke-width="1" fill="none" shape-rendering="crispEdges"/>
<text class="il" x="250.8" y="13" text-anchor="end">100</text>
<text class="il" x="250.8" y="31" text-anchor="end">90</text>
<text class="il" x="250.8" y="49" text-anchor="end">80</text>
<text class="il" x="250.8" y="68" text-anchor="end">70</text>
<text class="il" x="250.8" y="86" text-anchor="end">60</text>
<text class="il" x="250.8" y="105" text-anchor="end">50</text>
<text class="il" x="250.8" y="123" text-anchor="end">40</text>
<text class="il" x="250.8" y="141" text-anchor="end">30</text>
<text class="il" x="250.8" y="160" text-anchor="end">20</text>
<text class="il" x="250.8" y="179" text-anchor="end">10</text>
<text class="il" x="250.8" y="197" text-anchor="end">0</text>
<text class="il" x="284.3" y="211" text-anchor="middle">1</text>
<text class="il" x="338.1" y="211" text-anchor="middle">2</text>
<text class="il" x="392.3" y="211" text-anchor="middle">3</text>
<text class="il" x="446.6" y="211" text-anchor="middle">4</text>
<text class="il" x="499.8" y="211" text-anchor="middle">5</text>
<text class="il" x="554.3" y="211" text-anchor="middle">6</text>
<text class="il" x="608.1" y="211" text-anchor="middle">7</text>
<text class="dl" transform="translate(292.6,172) scale(0.88,1)" text-anchor="middle">8,3</text>
<text class="dl" transform="translate(346.1,166) scale(0.88,1)" text-anchor="middle">11,3</text>
<text class="dl" transform="translate(399.6,166) scale(0.88,1)" text-anchor="middle">11,1</text>
<text class="dl" transform="translate(453.6,97) scale(0.88,1)" text-anchor="middle">48,6</text>
<text class="dl" transform="translate(507.6,111) scale(0.88,1)" text-anchor="middle">40,9</text>
<text class="dl" transform="translate(562.1,182) scale(0.88,1)" text-anchor="middle">2,6</text>
<text class="dl" transform="translate(615.6,133) scale(0.88,1)" text-anchor="middle">29,2</text>
</svg>
</body></html>
